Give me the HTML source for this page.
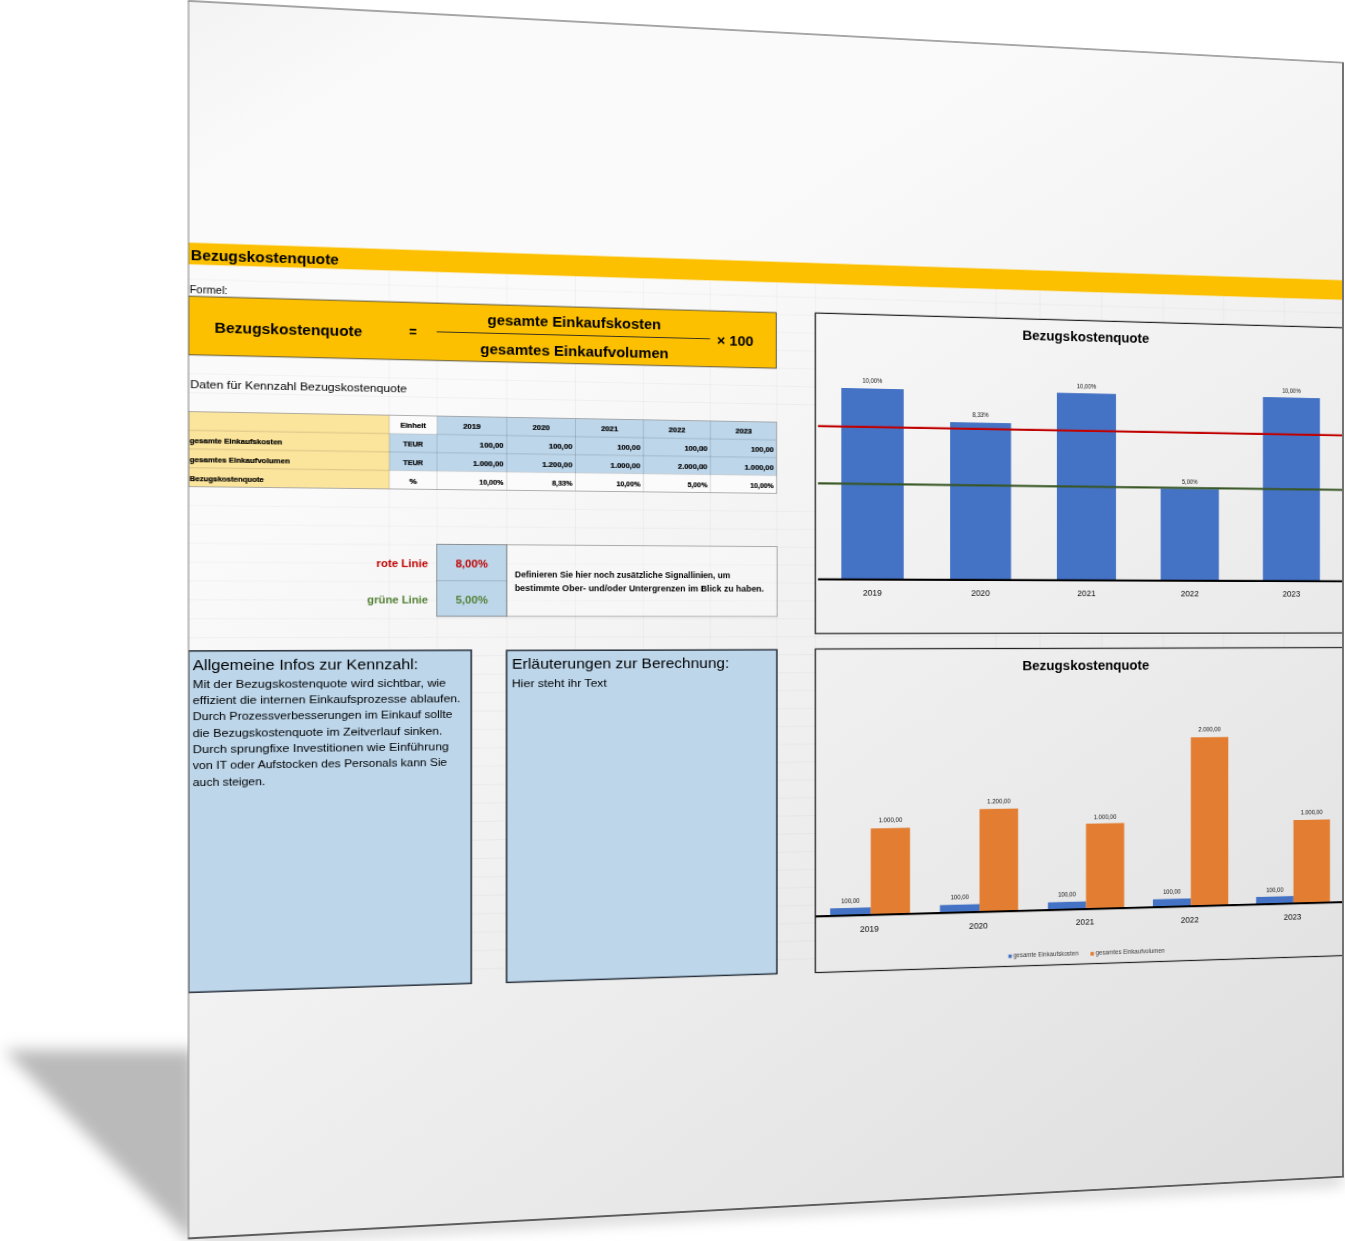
<!DOCTYPE html>
<html lang="de"><head><meta charset="utf-8"><title>Bezugskostenquote</title>
<style>
html,body{margin:0;padding:0;background:#fff;}
body{width:1345px;height:1241px;overflow:hidden;position:relative;font-family:"Liberation Sans",sans-serif;}
#shadow{position:absolute;left:0;top:0;width:1345px;height:1241px;}
#page{position:absolute;left:0;top:0;width:1142px;height:1237px;transform-origin:0 0;transform:matrix3d(1.141319915,0.06020230501,0,9.707684713e-05,0,1.000404204,0,0,0,0,1,0,188.5,0.9,0,1);
 overflow:visible;}
#page svg{position:absolute;left:-30px;top:-30px;overflow:hidden;}
text{font-family:"Liberation Sans",sans-serif;fill:#000;}
.b{font-weight:bold}
.big{font-size:15.3px}.med{font-size:11.7px}.fo{font-size:10.6px}.tab{font-size:7.9px;stroke:#000;stroke-width:0.22px}
.lin{font-size:11.8px}.def{font-size:9.4px}.yr{font-size:9.0px;fill:#0c0c0c}.lab{font-size:6.4px;fill:#111}.leg{font-size:6.4px;fill:#3a3a3a}
</style></head><body>
<svg id="shadow" width="1345" height="1241" viewBox="0 0 1345 1241">
<defs><filter id="bl" x="-20%" y="-20%" width="140%" height="140%"><feGaussianBlur stdDeviation="7.5"/></filter>
<filter id="bl2" x="-10%" y="-50%" width="120%" height="200%"><feGaussianBlur stdDeviation="7"/></filter></defs>
<polygon points="195,1050 4,1050 195,1245" fill="#bababa" filter="url(#bl)"/>
<polygon points="200,1232 1343,1172 1343,1186 200,1246" fill="#d8d8d8" filter="url(#bl2)"/>
</svg>
<div id="page">
<svg width="1202" height="1297" viewBox="-30 -30 1202 1297">
<defs><linearGradient id="pg" gradientUnits="userSpaceOnUse" x1="0" y1="0" x2="977.5" y2="1355">
<stop offset="0" stop-color="#f3f3f3"/><stop offset="0.09" stop-color="#fafafa"/><stop offset="0.275" stop-color="#fafafa"/><stop offset="1" stop-color="#dedede"/>
</linearGradient>
<clipPath id="pc"><rect x="0" y="0" width="1142" height="1237"/></clipPath></defs>
<g clip-path="url(#pc)">
<rect x="0" y="0" width="1142" height="1237" fill="url(#pg)"/>
<line x1="0.0" y1="391.5" x2="1142.0" y2="391.5" stroke="rgba(0,0,0,0.048)" stroke-width="0.8"/>
<line x1="0.0" y1="372.6" x2="1142.0" y2="372.6" stroke="rgba(0,0,0,0.048)" stroke-width="0.8"/>
<line x1="0.0" y1="353.7" x2="1142.0" y2="353.7" stroke="rgba(0,0,0,0.048)" stroke-width="0.8"/>
<line x1="0.0" y1="334.8" x2="1142.0" y2="334.8" stroke="rgba(0,0,0,0.048)" stroke-width="0.8"/>
<line x1="0.0" y1="315.9" x2="1142.0" y2="315.9" stroke="rgba(0,0,0,0.048)" stroke-width="0.8"/>
<line x1="0.0" y1="297.0" x2="1142.0" y2="297.0" stroke="rgba(0,0,0,0.048)" stroke-width="0.8"/>
<line x1="0.0" y1="278.1" x2="1142.0" y2="278.1" stroke="rgba(0,0,0,0.048)" stroke-width="0.8"/>
<line x1="0.0" y1="504.3" x2="1142.0" y2="504.3" stroke="rgba(0,0,0,0.048)" stroke-width="0.8"/>
<line x1="0.0" y1="523.2" x2="1142.0" y2="523.2" stroke="rgba(0,0,0,0.048)" stroke-width="0.8"/>
<line x1="0.0" y1="542.1" x2="1142.0" y2="542.1" stroke="rgba(0,0,0,0.048)" stroke-width="0.8"/>
<line x1="0.0" y1="561.0" x2="1142.0" y2="561.0" stroke="rgba(0,0,0,0.048)" stroke-width="0.8"/>
<line x1="0.0" y1="579.9" x2="1142.0" y2="579.9" stroke="rgba(0,0,0,0.048)" stroke-width="0.8"/>
<line x1="0.0" y1="598.8" x2="1142.0" y2="598.8" stroke="rgba(0,0,0,0.048)" stroke-width="0.8"/>
<line x1="0.0" y1="617.7" x2="1142.0" y2="617.7" stroke="rgba(0,0,0,0.048)" stroke-width="0.8"/>
<line x1="0.0" y1="636.6" x2="1142.0" y2="636.6" stroke="rgba(0,0,0,0.048)" stroke-width="0.8"/>
<line x1="0.0" y1="655.5" x2="1142.0" y2="655.5" stroke="rgba(0,0,0,0.048)" stroke-width="0.8"/>
<line x1="0.0" y1="674.4" x2="1142.0" y2="674.4" stroke="rgba(0,0,0,0.048)" stroke-width="0.8"/>
<line x1="0.0" y1="693.3" x2="1142.0" y2="693.3" stroke="rgba(0,0,0,0.048)" stroke-width="0.8"/>
<line x1="0.0" y1="712.2" x2="1142.0" y2="712.2" stroke="rgba(0,0,0,0.048)" stroke-width="0.8"/>
<line x1="0.0" y1="731.1" x2="1142.0" y2="731.1" stroke="rgba(0,0,0,0.048)" stroke-width="0.8"/>
<line x1="0.0" y1="750.0" x2="1142.0" y2="750.0" stroke="rgba(0,0,0,0.048)" stroke-width="0.8"/>
<line x1="0.0" y1="768.9" x2="1142.0" y2="768.9" stroke="rgba(0,0,0,0.048)" stroke-width="0.8"/>
<line x1="0.0" y1="787.8" x2="1142.0" y2="787.8" stroke="rgba(0,0,0,0.048)" stroke-width="0.8"/>
<line x1="0.0" y1="806.7" x2="1142.0" y2="806.7" stroke="rgba(0,0,0,0.048)" stroke-width="0.8"/>
<line x1="0.0" y1="825.6" x2="1142.0" y2="825.6" stroke="rgba(0,0,0,0.048)" stroke-width="0.8"/>
<line x1="0.0" y1="844.5" x2="1142.0" y2="844.5" stroke="rgba(0,0,0,0.048)" stroke-width="0.8"/>
<line x1="0.0" y1="863.4" x2="1142.0" y2="863.4" stroke="rgba(0,0,0,0.048)" stroke-width="0.8"/>
<line x1="0.0" y1="882.3" x2="1142.0" y2="882.3" stroke="rgba(0,0,0,0.048)" stroke-width="0.8"/>
<line x1="0.0" y1="901.2" x2="1142.0" y2="901.2" stroke="rgba(0,0,0,0.048)" stroke-width="0.8"/>
<line x1="0.0" y1="920.1" x2="1142.0" y2="920.1" stroke="rgba(0,0,0,0.048)" stroke-width="0.8"/>
<line x1="0.0" y1="939.0" x2="1142.0" y2="939.0" stroke="rgba(0,0,0,0.048)" stroke-width="0.8"/>
<line x1="0.0" y1="957.9" x2="1142.0" y2="957.9" stroke="rgba(0,0,0,0.048)" stroke-width="0.8"/>
<line x1="0.0" y1="976.8" x2="1142.0" y2="976.8" stroke="rgba(0,0,0,0.048)" stroke-width="0.8"/>
<line x1="182.0" y1="263.3" x2="182.0" y2="990.5" stroke="rgba(0,0,0,0.048)" stroke-width="0.8"/>
<line x1="226.1" y1="263.3" x2="226.1" y2="990.5" stroke="rgba(0,0,0,0.048)" stroke-width="0.8"/>
<line x1="291.4" y1="263.3" x2="291.4" y2="990.5" stroke="rgba(0,0,0,0.048)" stroke-width="0.8"/>
<line x1="356.5" y1="263.3" x2="356.5" y2="990.5" stroke="rgba(0,0,0,0.048)" stroke-width="0.8"/>
<line x1="421.7" y1="263.3" x2="421.7" y2="990.5" stroke="rgba(0,0,0,0.048)" stroke-width="0.8"/>
<line x1="486.7" y1="263.3" x2="486.7" y2="990.5" stroke="rgba(0,0,0,0.048)" stroke-width="0.8"/>
<line x1="551.9" y1="263.3" x2="551.9" y2="990.5" stroke="rgba(0,0,0,0.048)" stroke-width="0.8"/>
<line x1="590.2" y1="263.3" x2="590.2" y2="990.5" stroke="rgba(0,0,0,0.048)" stroke-width="0.8"/>
<line x1="773.0" y1="263.3" x2="773.0" y2="990.5" stroke="rgba(0,0,0,0.048)" stroke-width="0.8"/>
<line x1="818.4" y1="263.3" x2="818.4" y2="990.5" stroke="rgba(0,0,0,0.048)" stroke-width="0.8"/>
<line x1="882.9" y1="263.3" x2="882.9" y2="990.5" stroke="rgba(0,0,0,0.048)" stroke-width="0.8"/>
<line x1="947.9" y1="263.3" x2="947.9" y2="990.5" stroke="rgba(0,0,0,0.048)" stroke-width="0.8"/>
<line x1="1012.2" y1="263.3" x2="1012.2" y2="990.5" stroke="rgba(0,0,0,0.048)" stroke-width="0.8"/>
<line x1="1078.0" y1="263.3" x2="1078.0" y2="990.5" stroke="rgba(0,0,0,0.048)" stroke-width="0.8"/>
<rect x="0.0" y="241.6" width="1142.0" height="21.7" fill="#fcc000"/>
<text class="b big" x="2.0" y="258.7" textLength="133.7" lengthAdjust="spacingAndGlyphs">Bezugskostenquote</text>
<text class="r fo" x="1.0" y="292.2" textLength="33.9" lengthAdjust="spacingAndGlyphs">Formel:</text>
<rect x="0.0" y="295.1" width="551.3" height="58.7" fill="#fcc000" stroke="#3a3a3a" stroke-width="0.8"/>
<text class="b big" x="23.3" y="331.0" textLength="133.8" lengthAdjust="spacingAndGlyphs">Bezugskostenquote</text>
<text class="b big" x="200.3" y="330.1" textLength="7.2" lengthAdjust="spacingAndGlyphs">=</text>
<text class="b big" x="273.3" y="316.1" textLength="165.4" lengthAdjust="spacingAndGlyphs">gesamte Einkaufskosten</text>
<text class="b big" x="266.5" y="346.2" textLength="179.5" lengthAdjust="spacingAndGlyphs">gesamtes Einkaufvolumen</text>
<line x1="225.8" y1="324.5" x2="486.4" y2="324.5" stroke="#222" stroke-width="0.9"/>
<text class="b big" x="493.0" y="331.3" textLength="36.0" lengthAdjust="spacingAndGlyphs">× 100</text>
<text class="r med" x="1.4" y="386.9" textLength="196.9" lengthAdjust="spacingAndGlyphs">Daten für Kennzahl Bezugskostenquote</text>
<rect x="0.0" y="410.4" width="182.0" height="75.0" fill="#fbe49c"/>
<rect x="182.0" y="429.2" width="44.2" height="37.5" fill="#bdd6ea"/>
<rect x="226.1" y="410.4" width="325.7" height="56.2" fill="#bdd6ea"/>
<rect x="182.0" y="410.4" width="44.2" height="18.7" fill="#fbfbfb"/>
<rect x="182.0" y="466.7" width="369.9" height="18.7" fill="#fbfbfb"/>
<line x1="0.0" y1="429.2" x2="551.8" y2="429.2" stroke="rgba(0,0,0,0.28)" stroke-width="0.5"/>
<line x1="0.0" y1="447.9" x2="551.8" y2="447.9" stroke="rgba(0,0,0,0.28)" stroke-width="0.5"/>
<line x1="0.0" y1="466.7" x2="551.8" y2="466.7" stroke="rgba(0,0,0,0.28)" stroke-width="0.5"/>
<line x1="182.0" y1="410.4" x2="182.0" y2="485.4" stroke="rgba(0,0,0,0.28)" stroke-width="0.5"/>
<line x1="226.1" y1="410.4" x2="226.1" y2="485.4" stroke="rgba(0,0,0,0.28)" stroke-width="0.5"/>
<line x1="291.4" y1="410.4" x2="291.4" y2="485.4" stroke="rgba(0,0,0,0.28)" stroke-width="0.5"/>
<line x1="356.5" y1="410.4" x2="356.5" y2="485.4" stroke="rgba(0,0,0,0.28)" stroke-width="0.5"/>
<line x1="421.7" y1="410.4" x2="421.7" y2="485.4" stroke="rgba(0,0,0,0.28)" stroke-width="0.5"/>
<line x1="486.7" y1="410.4" x2="486.7" y2="485.4" stroke="rgba(0,0,0,0.28)" stroke-width="0.5"/>
<rect x="0.0" y="410.4" width="551.8" height="75.0" fill="none" stroke="#8f8f8f" stroke-width="0.7"/>
<text class="b tab" x="1.0" y="442.1" textLength="83.2" lengthAdjust="spacingAndGlyphs">gesamte Einkaufskosten</text>
<text class="b tab" x="1.0" y="460.9" textLength="90.0" lengthAdjust="spacingAndGlyphs">gesamtes Einkaufvolumen</text>
<text class="b tab" x="1.0" y="479.6" textLength="66.5" lengthAdjust="spacingAndGlyphs">Bezugskostenquote</text>
<text class="b tab" x="204.0" y="423.4" text-anchor="middle" textLength="23.7" lengthAdjust="spacingAndGlyphs">Einheit</text>
<text class="b tab" x="204.0" y="442.1" text-anchor="middle" textLength="18.4" lengthAdjust="spacingAndGlyphs">TEUR</text>
<text class="b tab" x="204.0" y="460.9" text-anchor="middle" textLength="18.4" lengthAdjust="spacingAndGlyphs">TEUR</text>
<text class="b tab" x="204.0" y="479.6" text-anchor="middle">%</text>
<text class="b tab" x="258.7" y="423.4" text-anchor="middle" textLength="16.3" lengthAdjust="spacingAndGlyphs">2019</text>
<text class="b tab" x="288.4" y="442.1" text-anchor="end" textLength="22.3" lengthAdjust="spacingAndGlyphs">100,00</text>
<text class="b tab" x="288.4" y="460.9" text-anchor="end" textLength="28.6" lengthAdjust="spacingAndGlyphs">1.000,00</text>
<text class="b tab" x="288.4" y="479.6" text-anchor="end" textLength="23.0" lengthAdjust="spacingAndGlyphs">10,00%</text>
<text class="b tab" x="323.9" y="423.4" text-anchor="middle" textLength="16.3" lengthAdjust="spacingAndGlyphs">2020</text>
<text class="b tab" x="353.5" y="442.1" text-anchor="end" textLength="22.3" lengthAdjust="spacingAndGlyphs">100,00</text>
<text class="b tab" x="353.5" y="460.9" text-anchor="end" textLength="28.6" lengthAdjust="spacingAndGlyphs">1.200,00</text>
<text class="b tab" x="353.5" y="479.6" text-anchor="end" textLength="19.3" lengthAdjust="spacingAndGlyphs">8,33%</text>
<text class="b tab" x="389.1" y="423.4" text-anchor="middle" textLength="16.3" lengthAdjust="spacingAndGlyphs">2021</text>
<text class="b tab" x="418.7" y="442.1" text-anchor="end" textLength="22.3" lengthAdjust="spacingAndGlyphs">100,00</text>
<text class="b tab" x="418.7" y="460.9" text-anchor="end" textLength="28.6" lengthAdjust="spacingAndGlyphs">1.000,00</text>
<text class="b tab" x="418.7" y="479.6" text-anchor="end" textLength="23.0" lengthAdjust="spacingAndGlyphs">10,00%</text>
<text class="b tab" x="454.2" y="423.4" text-anchor="middle" textLength="16.3" lengthAdjust="spacingAndGlyphs">2022</text>
<text class="b tab" x="483.7" y="442.1" text-anchor="end" textLength="22.3" lengthAdjust="spacingAndGlyphs">100,00</text>
<text class="b tab" x="483.7" y="460.9" text-anchor="end" textLength="28.6" lengthAdjust="spacingAndGlyphs">2.000,00</text>
<text class="b tab" x="483.7" y="479.6" text-anchor="end" textLength="19.3" lengthAdjust="spacingAndGlyphs">5,00%</text>
<text class="b tab" x="519.3" y="423.4" text-anchor="middle" textLength="16.3" lengthAdjust="spacingAndGlyphs">2023</text>
<text class="b tab" x="548.8" y="442.1" text-anchor="end" textLength="22.3" lengthAdjust="spacingAndGlyphs">100,00</text>
<text class="b tab" x="548.8" y="460.9" text-anchor="end" textLength="28.6" lengthAdjust="spacingAndGlyphs">1.000,00</text>
<text class="b tab" x="548.8" y="479.6" text-anchor="end" textLength="23.0" lengthAdjust="spacingAndGlyphs">10,00%</text>
<rect x="291.3" y="541.6" width="260.9" height="73.5" fill="rgba(255,255,255,0.25)" stroke="#9a9a9a" stroke-width="0.8"/>
<rect x="225.8" y="541.6" width="65.5" height="73.5" fill="#bdd6ea" stroke="#777" stroke-width="0.8"/>
<line x1="225.8" y1="578.7" x2="291.3" y2="578.7" stroke="rgba(0,0,0,0.3)" stroke-width="0.5"/>
<text class="b lin" x="170.1" y="564.7" textLength="47.8" lengthAdjust="spacingAndGlyphs" style="fill:#c00000">rote Linie</text>
<text class="b lin" x="161.6" y="601.6" textLength="56.2" lengthAdjust="spacingAndGlyphs" style="fill:#538135">grüne Linie</text>
<text class="b lin" x="243.4" y="564.9" textLength="30.3" lengthAdjust="spacingAndGlyphs" style="fill:#c00000">8,00%</text>
<text class="b lin" x="243.4" y="602.0" textLength="30.3" lengthAdjust="spacingAndGlyphs" style="fill:#538135">5,00%</text>
<text class="b def" x="298.9" y="575.0" textLength="207.2" lengthAdjust="spacingAndGlyphs">Definieren Sie hier noch zusätzliche Signallinien, um</text>
<text class="b def" x="298.9" y="588.8" textLength="240.3" lengthAdjust="spacingAndGlyphs">bestimmte Ober- und/oder Untergrenzen im Blick zu haben.</text>
<rect x="0.0" y="649.8" width="258.1" height="341.4" fill="#bdd6ea" stroke="#27303a" stroke-width="1.5"/>
<rect x="291.3" y="650.2" width="260.7" height="341.2" fill="#bdd6ea" stroke="#27303a" stroke-width="1.5"/>
<text class="r big" x="3.8" y="669.3" textLength="204.8" lengthAdjust="spacingAndGlyphs">Allgemeine Infos zur Kennzahl:</text>
<text class="r med" x="3.8" y="687.2" textLength="230.7" lengthAdjust="spacingAndGlyphs">Mit der Bezugskostenquote wird sichtbar, wie</text>
<text class="r med" x="3.8" y="703.5" textLength="244.2" lengthAdjust="spacingAndGlyphs">effizient die internen Einkaufsprozesse ablaufen.</text>
<text class="r med" x="3.8" y="719.5" textLength="236.7" lengthAdjust="spacingAndGlyphs">Durch Prozessverbesserungen im Einkauf sollte</text>
<text class="r med" x="3.8" y="735.8" textLength="227.4" lengthAdjust="spacingAndGlyphs">die Bezugskostenquote im Zeitverlauf sinken.</text>
<text class="r med" x="3.8" y="752.1" textLength="233.4" lengthAdjust="spacingAndGlyphs">Durch sprungfixe Investitionen wie Einführung</text>
<text class="r med" x="3.8" y="768.2" textLength="231.7" lengthAdjust="spacingAndGlyphs">von IT oder Aufstocken des Personals kann Sie</text>
<text class="r med" x="3.8" y="785.3" textLength="65.0" lengthAdjust="spacingAndGlyphs">auch steigen.</text>
<text class="r big" x="296.2" y="669.4" textLength="208.9" lengthAdjust="spacingAndGlyphs">Erläuterungen zur Berechnung:</text>
<text class="r med" x="296.2" y="687.9" textLength="90.2" lengthAdjust="spacingAndGlyphs">Hier steht ihr Text</text>
<rect x="590.2" y="294.4" width="571.8" height="338.8" fill="url(#pg)" stroke="#222" stroke-width="1.3"/>
<text class="b big" x="800.2" y="317.3" textLength="132.8" lengthAdjust="spacingAndGlyphs">Bezugskostenquote</text>
<rect x="616.1" y="373.0" width="62.7" height="203.0" fill="#4472c4"/>
<text class="r lab" x="647.3" y="367.4" text-anchor="middle" textLength="20.2" lengthAdjust="spacingAndGlyphs">10,00%</text>
<text class="r yr" x="647.3" y="593.2" text-anchor="middle" textLength="19.3" lengthAdjust="spacingAndGlyphs">2019</text>
<rect x="726.0" y="407.1" width="62.5" height="168.8" fill="#4472c4"/>
<text class="r lab" x="757.1" y="401.4" text-anchor="middle" textLength="16.8" lengthAdjust="spacingAndGlyphs">8,33%</text>
<text class="r yr" x="757.1" y="593.0" text-anchor="middle" textLength="19.3" lengthAdjust="spacingAndGlyphs">2020</text>
<rect x="836.0" y="373.2" width="61.9" height="202.7" fill="#4472c4"/>
<text class="r lab" x="866.9" y="367.7" text-anchor="middle" textLength="20.2" lengthAdjust="spacingAndGlyphs">10,00%</text>
<text class="r yr" x="866.9" y="592.9" text-anchor="middle" textLength="19.3" lengthAdjust="spacingAndGlyphs">2021</text>
<rect x="945.1" y="475.3" width="62.1" height="100.6" fill="#4472c4"/>
<text class="r lab" x="976.1" y="469.7" text-anchor="middle" textLength="16.8" lengthAdjust="spacingAndGlyphs">5,00%</text>
<text class="r yr" x="976.1" y="593.1" text-anchor="middle" textLength="19.3" lengthAdjust="spacingAndGlyphs">2022</text>
<rect x="1054.7" y="373.1" width="62.0" height="202.8" fill="#4472c4"/>
<text class="r lab" x="1085.6" y="367.7" text-anchor="middle" textLength="20.2" lengthAdjust="spacingAndGlyphs">10,00%</text>
<text class="r yr" x="1085.6" y="593.5" text-anchor="middle" textLength="19.3" lengthAdjust="spacingAndGlyphs">2023</text>
<line x1="592.8" y1="575.9" x2="1142.0" y2="575.9" stroke="#000" stroke-width="2.1"/>
<line x1="592.8" y1="413.9" x2="1142.0" y2="413.9" stroke="#c00000" stroke-width="2.3"/>
<line x1="592.8" y1="474.4" x2="1142.0" y2="474.4" stroke="#375623" stroke-width="2.1"/>
<rect x="590.2" y="649.5" width="571.8" height="342.0" fill="url(#pg)" stroke="#222" stroke-width="1.3"/>
<text class="b big" x="800.2" y="672.8" textLength="132.8" lengthAdjust="spacingAndGlyphs">Bezugskostenquote</text>
<rect x="604.9" y="924.1" width="40.8" height="8.0" fill="#4472c4"/>
<rect x="645.6" y="840.3" width="39.6" height="91.8" fill="#e27d31"/>
<text class="r lab" x="625.2" y="918.7" text-anchor="middle" textLength="18.6" lengthAdjust="spacingAndGlyphs">100,00</text>
<text class="r lab" x="665.4" y="834.5" text-anchor="middle" textLength="23.9" lengthAdjust="spacingAndGlyphs">1.000,00</text>
<text class="r yr" x="644.3" y="949.7" text-anchor="middle" textLength="19.3" lengthAdjust="spacingAndGlyphs">2019</text>
<rect x="715.6" y="923.7" width="40.6" height="8.4" fill="#4472c4"/>
<rect x="756.1" y="821.8" width="39.7" height="110.3" fill="#e27d31"/>
<text class="r lab" x="735.8" y="918.5" text-anchor="middle" textLength="18.6" lengthAdjust="spacingAndGlyphs">100,00</text>
<text class="r lab" x="776.0" y="816.2" text-anchor="middle" textLength="23.9" lengthAdjust="spacingAndGlyphs">1.200,00</text>
<text class="r yr" x="755.0" y="949.8" text-anchor="middle" textLength="19.3" lengthAdjust="spacingAndGlyphs">2020</text>
<rect x="826.7" y="923.8" width="39.7" height="8.3" fill="#4472c4"/>
<rect x="866.4" y="839.6" width="40.1" height="92.5" fill="#e27d31"/>
<text class="r lab" x="846.5" y="918.5" text-anchor="middle" textLength="18.6" lengthAdjust="spacingAndGlyphs">100,00</text>
<text class="r lab" x="886.4" y="835.0" text-anchor="middle" textLength="23.9" lengthAdjust="spacingAndGlyphs">1.000,00</text>
<text class="r yr" x="865.4" y="949.4" text-anchor="middle" textLength="19.3" lengthAdjust="spacingAndGlyphs">2021</text>
<rect x="936.9" y="923.5" width="40.3" height="8.6" fill="#4472c4"/>
<rect x="977.2" y="747.3" width="40.1" height="184.8" fill="#e27d31"/>
<text class="r lab" x="957.0" y="918.5" text-anchor="middle" textLength="18.6" lengthAdjust="spacingAndGlyphs">100,00</text>
<text class="r lab" x="997.2" y="741.5" text-anchor="middle" textLength="23.9" lengthAdjust="spacingAndGlyphs">2.000,00</text>
<text class="r yr" x="976.1" y="949.9" text-anchor="middle" textLength="19.3" lengthAdjust="spacingAndGlyphs">2022</text>
<rect x="1047.3" y="923.9" width="40.5" height="8.2" fill="#4472c4"/>
<rect x="1087.8" y="840.0" width="39.9" height="92.1" fill="#e27d31"/>
<text class="r lab" x="1067.5" y="918.6" text-anchor="middle" textLength="18.6" lengthAdjust="spacingAndGlyphs">100,00</text>
<text class="r lab" x="1107.7" y="833.8" text-anchor="middle" textLength="23.9" lengthAdjust="spacingAndGlyphs">1.000,00</text>
<text class="r yr" x="1086.8" y="949.7" text-anchor="middle" textLength="19.3" lengthAdjust="spacingAndGlyphs">2023</text>
<line x1="590.2" y1="932.1" x2="1142.0" y2="932.1" stroke="#000" stroke-width="2.2"/>
<rect x="785.8" y="978.8" width="3.5" height="3.7" fill="#4472c4"/>
<text class="r leg" x="790.9" y="982.2" textLength="67.7" lengthAdjust="spacingAndGlyphs">gesamte Einkaufskosten</text>
<rect x="871.1" y="978.8" width="3.6" height="3.9" fill="#e27d31"/>
<text class="r leg" x="876.6" y="981.8" textLength="72.8" lengthAdjust="spacingAndGlyphs">gesamtes Einkaufvolumen</text>
</g>
<line x1="0.0" y1="0.0" x2="0.0" y2="1237.0" stroke="#7a7a7a" stroke-width="0.9"/>
<line x1="-0.5" y1="0.0" x2="1143.0" y2="0.0" stroke="#888888" stroke-width="1.5"/>
<line x1="1142.0" y1="0.0" x2="1142.0" y2="1237.0" stroke="#6c6c6c" stroke-width="2.0"/>
<line x1="-0.5" y1="1237.0" x2="1143.0" y2="1237.0" stroke="#5c5c5c" stroke-width="1.9"/>
</svg>
</div>
</body></html>
